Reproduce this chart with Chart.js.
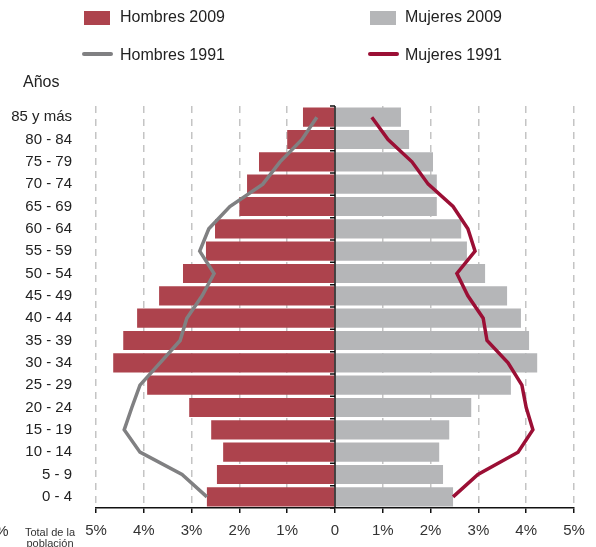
<!DOCTYPE html>
<html>
<head>
<meta charset="utf-8">
<script src="https://cdn.jsdelivr.net/npm/chart.js@4.4.1/dist/chart.umd.min.js"></script>
<style>
  body { margin: 0; background: #fff; font-family: "Liberation Sans", Arial, sans-serif; color: #222; }
  #wrap { position: relative; width: 596px; height: 547px; overflow: hidden; }
  #chart-box { position: absolute; left: 0; top: 0; width: 596px; height: 547px; }
  .txt { position: absolute; font-size: 16px; line-height: 16px; white-space: nowrap; }
  .box { position: absolute; width: 26px; height: 14px; }
  .ln { position: absolute; width: 31px; height: 4px; border-radius: 2px; }
  .small { position: absolute; font-size: 11px; line-height: 11px; text-align: center; color: #333; white-space: nowrap; }
</style>
</head>
<body>
<div id="wrap">
  <div id="chart-box"><canvas id="pyramid"></canvas></div>

  <!-- legend -->
  <div class="box" style="left:84px; top:11px; background:#ad434d;"></div>
  <div class="txt" style="left:120px; top:9px;">Hombres 2009</div>
  <div class="box" style="left:370px; top:11px; background:#b5b6b8;"></div>
  <div class="txt" style="left:405px; top:9px;">Mujeres 2009</div>
  <div class="ln" style="left:82px; top:52px; background:#808082;"></div>
  <div class="txt" style="left:120px; top:47px;">Hombres 1991</div>
  <div class="ln" style="left:368px; top:52px; background:#9b0f35;"></div>
  <div class="txt" style="left:405px; top:47px;">Mujeres 1991</div>

  <div class="txt" style="left:23px; top:74px;">Años</div>

  <!-- cut-off bits at the bottom left -->
  <div class="txt" style="left:-13px; top:523px; font-size:15px; color:#333;">5%</div>
  <div class="small" style="left:16px; top:527px; width:68px;">Total de la<br>población</div>
</div>

<script>
// age groups, youngest first (axis is reversed so 0-4 sits at the bottom)
const ageGroups = ['0 - 4', '5 - 9', '10 - 14', '15 - 19', '20 - 24', '25 - 29', '30 - 34', '35 - 39',
  '40 - 44', '45 - 49', '50 - 54', '55 - 59', '60 - 64', '65 - 69', '70 - 74', '75 - 79', '80 - 84', '85 y más'];

// % of total population
const hombres2009 = [2.68, 2.47, 2.34, 2.59, 3.05, 3.93, 4.64, 4.43, 4.14, 3.68, 3.18, 2.70, 2.51, 2.00, 1.84, 1.59, 1.00, 0.67];
const mujeres2009 = [2.47, 2.26, 2.18, 2.39, 2.85, 3.68, 4.23, 4.06, 3.89, 3.60, 3.14, 2.76, 2.64, 2.13, 2.13, 2.05, 1.55, 1.38];
const hombres1991 = [2.68, 3.20, 4.08, 4.41, 4.25, 4.08, 3.66, 3.24, 3.10, 2.78, 2.53, 2.83, 2.64, 2.20, 1.51, 1.15, 0.69, 0.38];
const mujeres1991 = [2.47, 2.99, 3.83, 4.14, 4.00, 3.91, 3.62, 3.18, 3.10, 2.78, 2.55, 2.93, 2.78, 2.47, 1.95, 1.61, 1.11, 0.77];

const xTicks = [-5, -4, -3, -2, -1, 0, 1, 2, 3, 4, 5];

// men go on the left side
const neg = arr => arr.map(v => -v);

// center axis with little ticks between age groups
const centerAxis = {
  id: 'centerAxis',
  afterDatasetsDraw(chart) {
    const { ctx, chartArea, scales } = chart;
    const x0 = scales.x.getPixelForValue(0);
    const n = ageGroups.length;
    const step = (chartArea.bottom - chartArea.top) / n;
    ctx.save();
    ctx.strokeStyle = '#111';
    ctx.lineWidth = 1.5;
    ctx.beginPath();
    ctx.moveTo(x0, chartArea.top);
    ctx.lineTo(x0, chartArea.bottom);
    for (let k = 0; k <= n; k++) {
      const y = chartArea.top + k * step;
      ctx.moveTo(x0 - 5, y);
      ctx.lineTo(x0, y);
    }
    ctx.stroke();
    ctx.restore();
  }
};

new Chart(document.getElementById('pyramid'), {
  type: 'bar',
  data: {
    labels: ageGroups,
    datasets: [
      {
        type: 'line',
        label: 'Hombres 1991',
        data: neg(hombres1991),
        borderColor: '#808082',
        borderWidth: 3.5,
        pointRadius: 0,
        tension: 0,
        indexAxis: 'y',
        order: 0
      },
      {
        type: 'line',
        label: 'Mujeres 1991',
        data: mujeres1991,
        borderColor: '#9b0f35',
        borderWidth: 3.5,
        pointRadius: 0,
        tension: 0,
        indexAxis: 'y',
        order: 0
      },
      {
        label: 'Hombres 2009',
        data: neg(hombres2009),
        backgroundColor: '#ad434d',
        grouped: false,
        barPercentage: 0.86,
        categoryPercentage: 1,
        order: 1
      },
      {
        label: 'Mujeres 2009',
        data: mujeres2009,
        backgroundColor: '#b5b6b8',
        grouped: false,
        barPercentage: 0.86,
        categoryPercentage: 1,
        order: 1
      }
    ]
  },
  options: {
    indexAxis: 'y',
    responsive: true,
    maintainAspectRatio: false,
    animation: false,
    layout: { padding: { top: 106, right: 22, left: 0, bottom: 0 } },
    plugins: {
      legend: { display: false },
      tooltip: { enabled: false }
    },
    scales: {
      x: {
        min: -5,
        max: 5,
        afterBuildTicks: scale => { scale.ticks = xTicks.map(v => ({ value: v })); },
        afterFit: scale => { scale.height = 39; },
        grid: {
          color: c => c.tick && c.tick.value === 0 ? 'rgba(0,0,0,0)' : '#c4c4c4',
          lineWidth: 1.5,
          tickColor: '#111',
          tickLength: 5,
          tickWidth: 1.5
        },
        border: {
          color: '#111',
          width: 1.5,
          dash: c => c.type === 'tick' ? [7, 6] : []
        },
        ticks: {
          padding: 9,
          color: '#333',
          font: { family: '"Liberation Sans", Arial, sans-serif', size: 15 },
          callback: v => v === 0 ? '0' : Math.abs(v) + '%'
        }
      },
      y: {
        reverse: true,
        afterFit: scale => { scale.width = 96; },
        grid: { display: false, drawTicks: false },
        border: { display: false },
        ticks: {
          padding: 24,
          color: '#222',
          font: { family: '"Liberation Sans", Arial, sans-serif', size: 15 }
        }
      }
    }
  },
  plugins: [centerAxis]
});
</script>
</body>
</html>
